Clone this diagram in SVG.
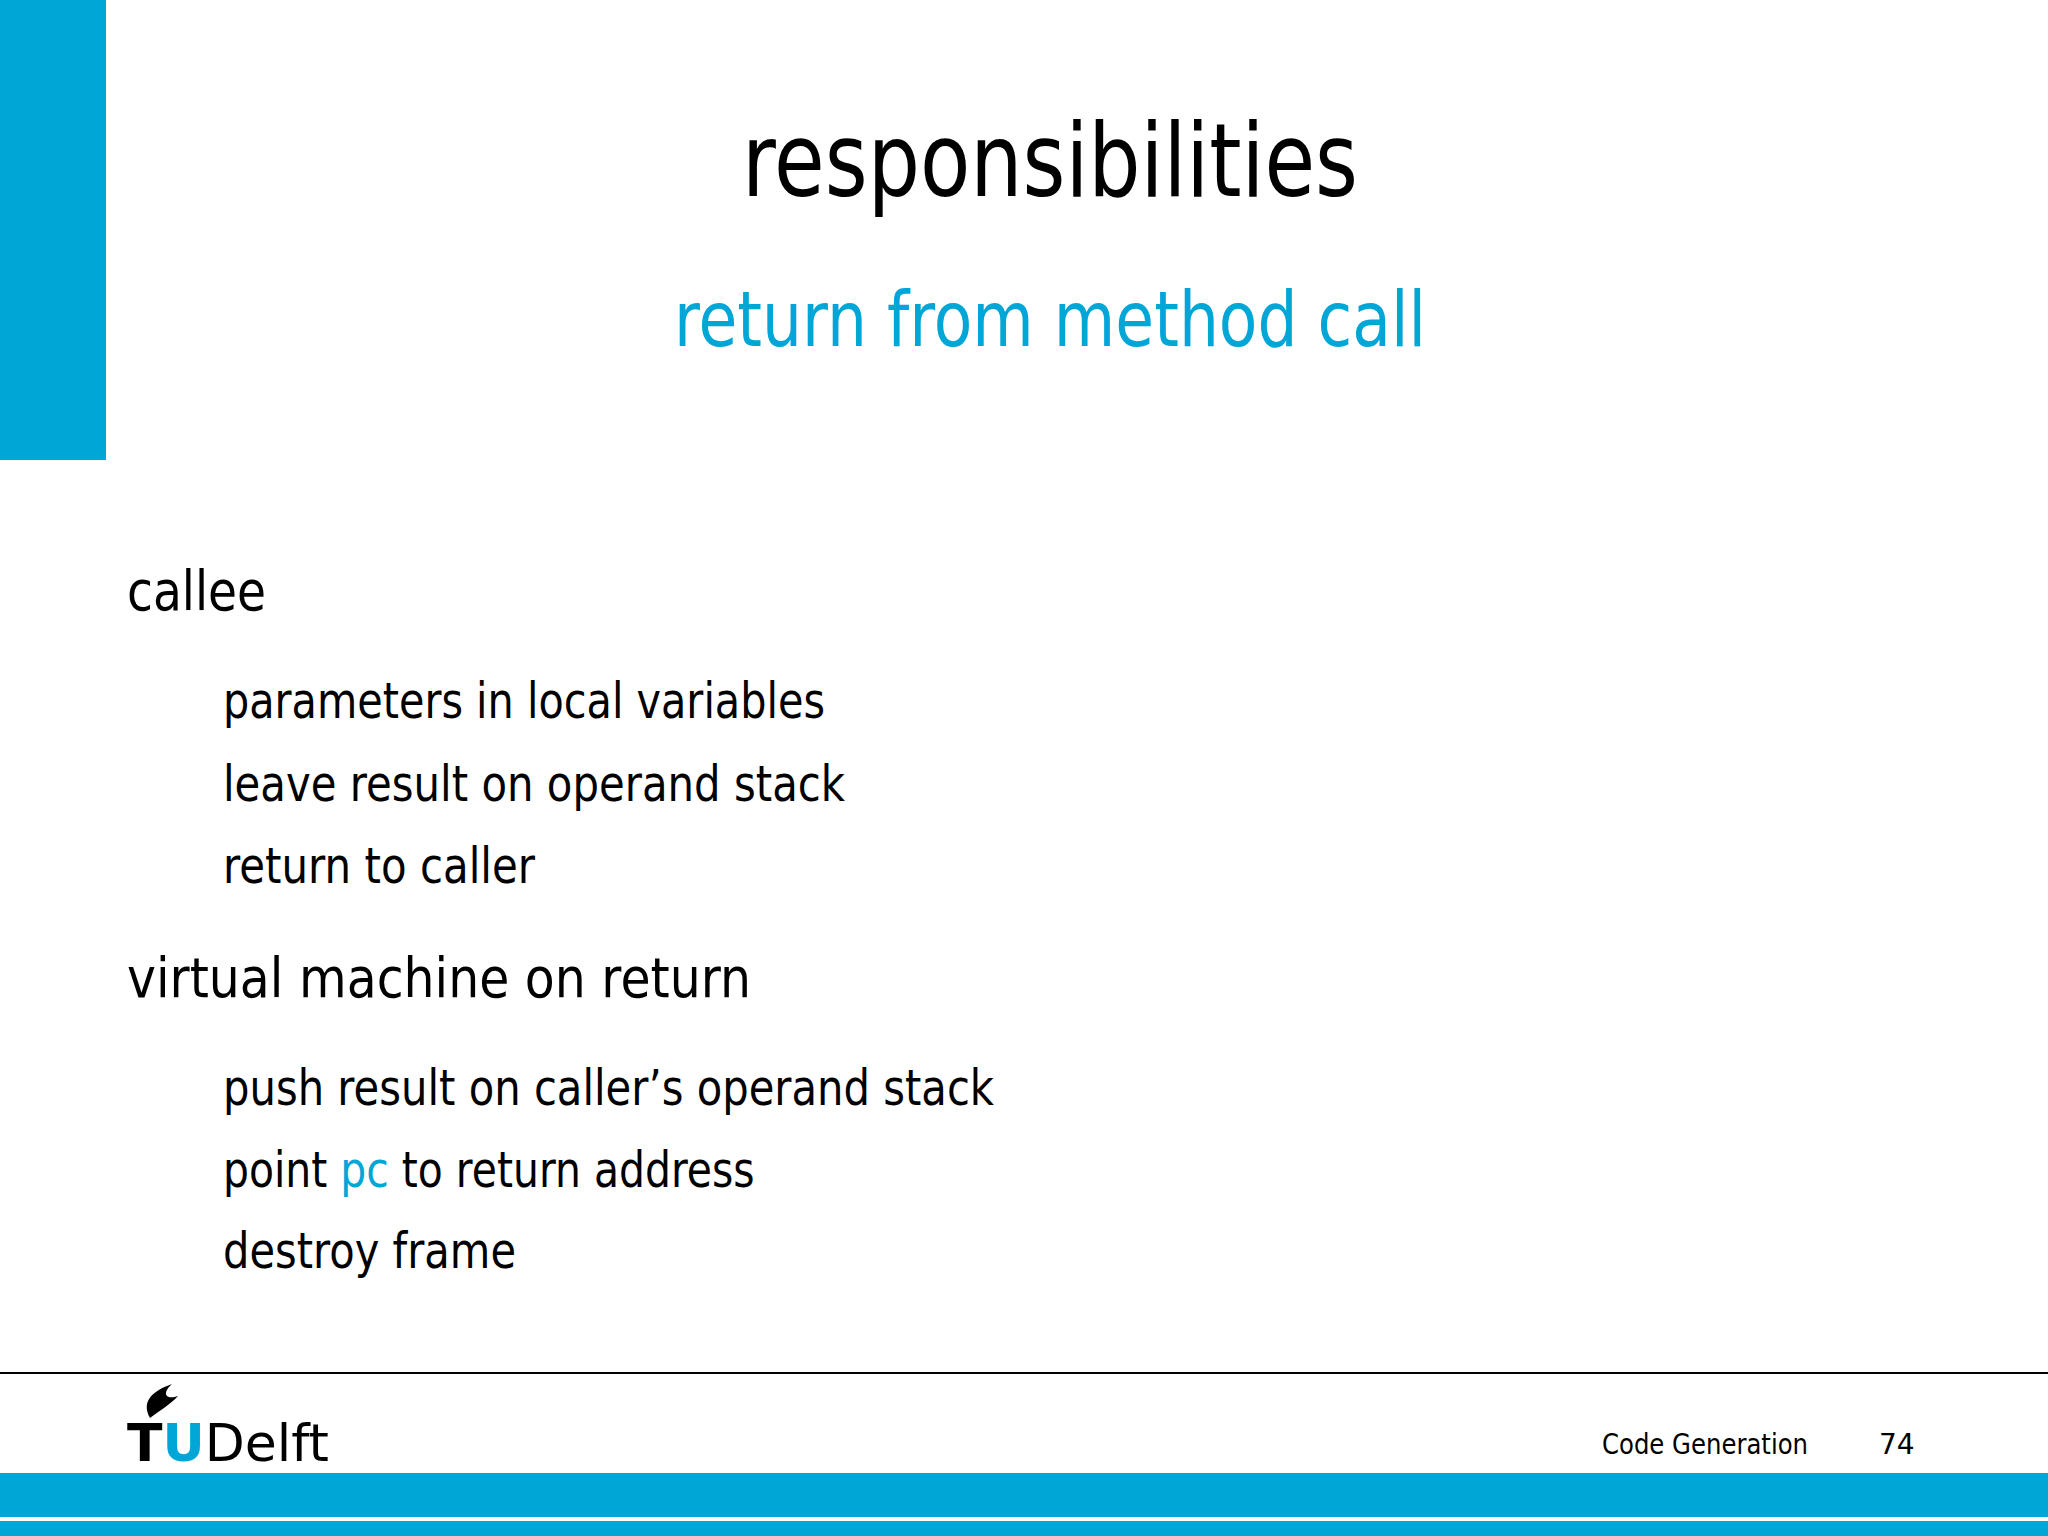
<svg xmlns="http://www.w3.org/2000/svg" width="2048" height="1536" viewBox="0 0 2048 1536">
<style>
.t{font-family:"DejaVu Sans","Liberation Sans",sans-serif;fill:#000}
.b{fill:#00A6D6}
.h{font-size:55px}
.i{font-size:49px}
</style>
<rect width="2048" height="1536" fill="#fff"/>
<g id="header">
<rect x="0" y="0" width="106" height="460" class="b"/>
<text class="t" x="742" y="196" font-size="102" textLength="616" lengthAdjust="spacingAndGlyphs">responsibilities</text>
<text class="t" x="674" y="346" font-size="76" textLength="752" lengthAdjust="spacingAndGlyphs" style="fill:#00A6D6">return from method call</text>
</g>
<g id="body">
<text class="t h" x="127" y="610" textLength="139" lengthAdjust="spacingAndGlyphs">callee</text>
<text class="t i" x="223" y="718" textLength="602" lengthAdjust="spacingAndGlyphs">parameters in local variables</text>
<text class="t i" x="223" y="801" textLength="622" lengthAdjust="spacingAndGlyphs">leave result on operand stack</text>
<text class="t i" x="223" y="883" textLength="312" lengthAdjust="spacingAndGlyphs">return to caller</text>
<text class="t h" x="127" y="997" textLength="624" lengthAdjust="spacingAndGlyphs">virtual machine on return</text>
<text class="t i" x="223" y="1105" textLength="771" lengthAdjust="spacingAndGlyphs">push result on caller’s operand stack</text>
<g transform="translate(223 1187) scale(0.835 1)"><text class="t i" x="0" y="0">point <tspan style="fill:#00A6D6">pc</tspan> to return address</text></g>
<text class="t i" x="223" y="1268" textLength="293" lengthAdjust="spacingAndGlyphs">destroy frame</text>
</g>
<g id="footer">
<line x1="0" y1="1373" x2="2048" y2="1373" stroke="#000" stroke-width="2"/>
<path d="M150 1418 C140 1400 155 1390 172 1384 C160 1395 168 1400 178 1396 C170 1405 160 1410 150 1418 Z" fill="#000"/>
<text class="t" x="127" y="1461" font-size="52" font-weight="bold">T<tspan style="fill:#00A6D6">U</tspan><tspan font-weight="normal">Delft</tspan></text>
<text class="t" x="1602" y="1454" font-size="28" textLength="206" lengthAdjust="spacingAndGlyphs">Code Generation</text>
<text class="t" x="1879" y="1454" font-size="28">74</text>
<rect x="0" y="1473" width="2048" height="44" class="b"/>
<rect x="0" y="1521" width="2048" height="15" class="b"/>
</g>
</svg>
